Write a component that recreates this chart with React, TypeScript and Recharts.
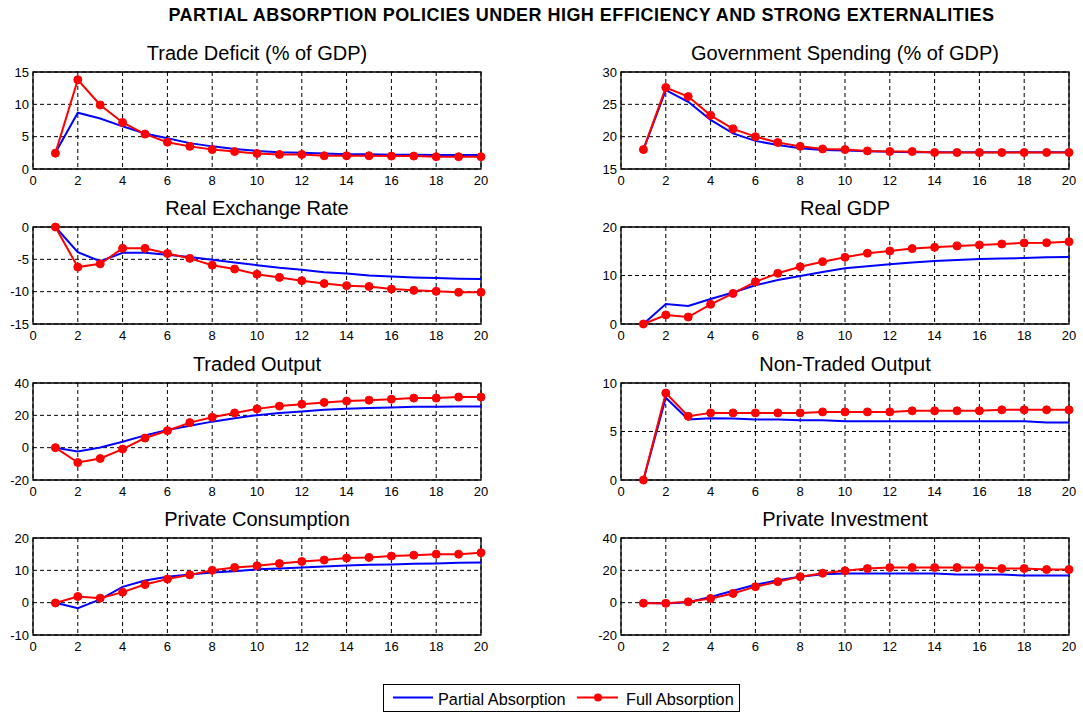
import React from 'react';
import { LineChart, Line, XAxis, YAxis, CartesianGrid, ReferenceArea } from 'recharts';

const periods = [1, 2, 3, 4, 5, 6, 7, 8, 9, 10, 11, 12, 13, 14, 15, 16, 17, 18, 19, 20];
const xTicks = [0, 2, 4, 6, 8, 10, 12, 14, 16, 18, 20];

const tradeDeficitPartial = [2.5, 8.7, 7.8, 6.6, 5.5, 4.75, 4.0, 3.5, 3.1, 2.8, 2.6, 2.5, 2.4, 2.3, 2.3, 2.2, 2.2, 2.15, 2.15, 2.15];
const tradeDeficitFull = [2.45, 13.8, 9.9, 7.2, 5.4, 4.15, 3.5, 3.0, 2.7, 2.4, 2.25, 2.25, 2.05, 2.05, 2.05, 2.0, 2.0, 1.9, 1.9, 1.9];

const govSpendingPartial = [18.0, 27.2, 25.4, 22.6, 20.5, 19.35, 18.7, 18.2, 17.95, 17.85, 17.75, 17.65, 17.6, 17.6, 17.6, 17.6, 17.6, 17.6, 17.6, 17.6];
const govSpendingFull = [18.0, 27.6, 26.2, 23.3, 21.2, 20.0, 19.1, 18.5, 18.1, 18.0, 17.8, 17.7, 17.7, 17.55, 17.55, 17.55, 17.55, 17.55, 17.55, 17.55];

const rerPartial = [0, -3.9, -5.3, -4.0, -4.0, -4.3, -4.65, -5.05, -5.5, -5.9, -6.3, -6.6, -7.0, -7.2, -7.5, -7.65, -7.8, -7.9, -8.0, -8.05];
const rerFull = [0, -6.2, -5.7, -3.3, -3.3, -4.1, -4.85, -5.9, -6.5, -7.3, -7.8, -8.3, -8.75, -9.07, -9.2, -9.6, -9.8, -9.95, -10.1, -10.1];

const gdpPartial = [0, 4.1, 3.7, 5.15, 6.5, 8.0, 9.07, 9.9, 10.7, 11.5, 11.9, 12.3, 12.7, 13.0, 13.2, 13.4, 13.5, 13.6, 13.75, 13.8];
const gdpFull = [0, 1.86, 1.44, 4.05, 6.3, 8.7, 10.45, 11.8, 12.85, 13.75, 14.6, 15.05, 15.55, 15.8, 16.1, 16.3, 16.5, 16.7, 16.75, 16.97];

const tradedPartial = [0, -2.35, 0.1, 3.7, 7.6, 10.9, 13.6, 16.1, 18.2, 20.1, 21.5, 22.4, 23.4, 24.0, 24.6, 24.8, 25.3, 25.3, 25.5, 25.5];
const tradedFull = [0, -9.2, -6.7, -0.9, 5.95, 10.5, 15.5, 18.8, 21.5, 24.0, 25.7, 26.9, 28.0, 28.8, 29.4, 30.0, 30.65, 30.65, 31.3, 31.3];

const nonTradedPartial = [0, 8.48, 6.23, 6.37, 6.33, 6.23, 6.23, 6.16, 6.16, 6.06, 6.06, 6.06, 6.06, 6.06, 6.06, 6.06, 6.06, 6.06, 5.92, 5.92];
const nonTradedFull = [0, 8.96, 6.57, 6.92, 6.92, 6.92, 6.92, 6.92, 7.02, 7.02, 7.02, 7.02, 7.13, 7.13, 7.13, 7.13, 7.23, 7.23, 7.23, 7.23];

const consumptionPartial = [0, -1.7, 1.0, 4.9, 6.85, 8.0, 8.7, 9.35, 9.75, 10.3, 10.6, 10.9, 11.2, 11.5, 11.7, 11.8, 12.0, 12.1, 12.35, 12.45];
const consumptionFull = [-0.1, 1.9, 1.4, 3.25, 5.6, 7.3, 8.6, 10.0, 10.9, 11.4, 12.1, 12.75, 13.2, 13.8, 14.0, 14.4, 14.7, 15.0, 15.0, 15.45];

const investmentPartial = [0, -0.5, 0.3, 3.5, 7.4, 11.1, 13.8, 16.1, 17.6, 18.0, 18.0, 18.0, 18.0, 18.0, 17.4, 17.4, 17.4, 16.8, 16.8, 16.8];
const investmentFull = [-0.3, -0.4, 0.5, 2.6, 5.7, 9.9, 13.0, 16.1, 18.2, 19.7, 21.1, 21.7, 21.7, 21.7, 21.7, 21.7, 21.1, 21.1, 20.5, 20.5];

const mainTitle = 'PARTIAL ABSORPTION POLICIES UNDER HIGH EFFICIENCY AND STRONG EXTERNALITIES';
const partialLabel = 'Partial Absorption';
const fullLabel = 'Full Absorption';

const panels = [
  { title: 'Trade Deficit (% of GDP)', partial: tradeDeficitPartial, full: tradeDeficitFull, domain: [0, 15], ticks: [0, 5, 10, 15] },
  { title: 'Government Spending (% of GDP)', partial: govSpendingPartial, full: govSpendingFull, domain: [15, 30], ticks: [15, 20, 25, 30] },
  { title: 'Real Exchange Rate', partial: rerPartial, full: rerFull, domain: [-15, 0], ticks: [-15, -10, -5, 0] },
  { title: 'Real GDP', partial: gdpPartial, full: gdpFull, domain: [0, 20], ticks: [0, 10, 20] },
  { title: 'Traded Output', partial: tradedPartial, full: tradedFull, domain: [-20, 40], ticks: [-20, 0, 20, 40] },
  { title: 'Non-Traded Output', partial: nonTradedPartial, full: nonTradedFull, domain: [0, 10], ticks: [0, 5, 10] },
  { title: 'Private Consumption', partial: consumptionPartial, full: consumptionFull, domain: [-10, 20], ticks: [-10, 0, 10, 20] },
  { title: 'Private Investment', partial: investmentPartial, full: investmentFull, domain: [-20, 40], ticks: [-20, 0, 20, 40] },
];

const COL_LEFT = [33, 621];
const ROW_TOP = [72, 227, 383, 538];
const PLOT_W = 448;
const PLOT_H = 97;
const Y_W = 33;
const M_TOP = 10;
const M_RIGHT = 12;
const X_H = 25;
const FONT = '"Liberation Sans", Arial, Helvetica, sans-serif';

function Panel({ p, left, top }: any) {
  const data = periods.map((t, i) => ({ t, partial: p.partial[i], full: p.full[i] }));
  return (
    <>
      <div
        style={{
          position: 'absolute',
          left,
          top: top - 29,
          width: PLOT_W,
          textAlign: 'center',
          fontSize: 20,
          lineHeight: 1,
          whiteSpace: 'nowrap',
          color: '#000',
        }}
      >
        {p.title}
      </div>
      <div style={{ position: 'absolute', left: left - Y_W, top: top - M_TOP }}>
        <LineChart
          width={Y_W + PLOT_W + M_RIGHT}
          height={M_TOP + PLOT_H + X_H}
          data={data}
          margin={{ top: M_TOP, right: M_RIGHT, left: 0, bottom: 0 }}
        >
          <CartesianGrid stroke="#000" strokeDasharray="4 3" strokeWidth={1} />
          <XAxis
            dataKey="t"
            type="number"
            domain={[0, 20]}
            ticks={xTicks}
            interval={0}
            height={X_H}
            tickLine={false}
            axisLine={false}
            tickSize={5}
            tickMargin={2}
            tick={{ fill: '#000', fontSize: 13 }}
          />
          <YAxis
            type="number"
            domain={p.domain}
            ticks={p.ticks}
            interval={0}
            width={Y_W}
            tickLine={false}
            axisLine={false}
            tickSize={2}
            tickMargin={2}
            tick={{ fill: '#000', fontSize: 13 }}
          />
          <ReferenceArea x1={0} x2={20} y1={p.domain[0]} y2={p.domain[1]} fill="none" fillOpacity={0} stroke="#000" strokeWidth={1.3} />
          <Line
            type="linear"
            dataKey="partial"
            stroke="#0000ff"
            strokeWidth={2}
            dot={false}
            activeDot={false}
            isAnimationActive={false}
          />
          <Line
            type="linear"
            dataKey="full"
            stroke="#ff0000"
            strokeWidth={2}
            dot={{ r: 4, fill: '#ff0000', stroke: '#ff0000', strokeWidth: 1 }}
            activeDot={false}
            isAnimationActive={false}
          />
        </LineChart>
      </div>
    </>
  );
}

export default function App() {
  return (
    <div
      style={{
        position: 'fixed',
        left: 0,
        top: 0,
        width: 1083,
        height: 715,
        overflow: 'hidden',
        background: '#fff',
        fontFamily: FONT,
        color: '#000',
      }}
    >
      <div
        style={{
          position: 'absolute',
          left: 0,
          top: 5.8,
          width: 1163,
          textAlign: 'center',
          fontSize: 18,
          fontWeight: 'bold',
          lineHeight: 1,
          letterSpacing: 0.45,
          whiteSpace: 'nowrap',
        }}
      >
        {mainTitle}
      </div>
      {panels.map((p, i) => (
        <Panel key={p.title} p={p} left={COL_LEFT[i % 2]} top={ROW_TOP[Math.floor(i / 2)]} />
      ))}
      <div
        style={{
          position: 'absolute',
          left: 383,
          top: 684,
          width: 357,
          height: 28,
          border: '1px solid #000',
          boxSizing: 'border-box',
        }}
      />
      <svg style={{ position: 'absolute', left: 0, top: 690 }} width={1083} height={16}>
        <line x1={393} x2={433} y1={7.5} y2={7.5} stroke="#0000ff" strokeWidth={2} />
        <line x1={577} x2={618} y1={7.5} y2={7.5} stroke="#ff0000" strokeWidth={2} />
        <circle cx={598} cy={7.5} r={4} fill="#ff0000" />
      </svg>
      <div style={{ position: 'absolute', left: 438, top: 690.5, fontSize: 16.3, lineHeight: 1, whiteSpace: 'nowrap' }}>
        {partialLabel}
      </div>
      <div style={{ position: 'absolute', left: 626, top: 690.5, fontSize: 16.3, lineHeight: 1, whiteSpace: 'nowrap' }}>
        {fullLabel}
      </div>
    </div>
  );
}
